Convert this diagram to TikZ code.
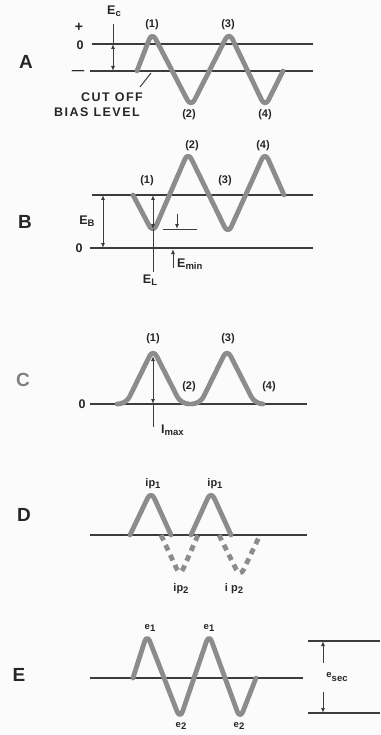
\documentclass[tikz,border=0pt]{standalone}
\usepackage{fontspec}
\setmainfont{Liberation Sans}
\usetikzlibrary{arrows.meta}
\definecolor{axc}{HTML}{3C3C3C}
\definecolor{wavec}{HTML}{8C8C8C}
\definecolor{txt}{HTML}{262626}
\definecolor{bgc}{HTML}{FBFBFB}
\newcommand{\lowsub}[1]{\raisebox{-0.35ex}{\fontsize{9.5}{10}\selectfont #1}}
\begin{document}
\begin{tikzpicture}[x=1pt,y=-1pt,
  axis/.style={line width=1.3pt, draw=axc},
  wave/.style={line width=4.8pt, draw=wavec, rounded corners=8pt, line cap=round, line join=round},
  dwave/.style={line width=4.8pt, draw=wavec, rounded corners=8pt, dash pattern=on 6pt off 5pt},
  lbl/.style={font=\fontsize{11}{12}\selectfont\bfseries, text=txt, inner sep=0pt},
  big/.style={font=\fontsize{12.5}{14}\selectfont\bfseries, text=txt, inner sep=0pt},
  panel/.style={font=\fontsize{19}{20}\selectfont\bfseries, text=txt, inner sep=0pt},
  dimline/.style={line width=1pt, draw=axc},
  dimarr/.style={line width=1pt, draw=axc, -{Latex[length=5pt,width=4pt]}},
  dimboth/.style={line width=1pt, draw=axc, {Latex[length=5pt,width=4pt]}-{Latex[length=5pt,width=4pt]}},
]
\fill[bgc] (0,0) rectangle (380,735);
\useasboundingbox (0,0) rectangle (380,735);

% ---------------- Panel A ----------------
\node[panel] (pA) at (26,62) {A};
\node[big, font=\fontsize{14}{14}\selectfont\bfseries] (plusA) at (79,27) {+};
\node[big] (zeroA) at (80,45) {0};
\node[big] (minusA) at (78,73) {\textemdash};
\coordinate (A0l) at (92,44); \coordinate (A0r) at (313,44);
\coordinate (A1l) at (90,71); \coordinate (A1r) at (313,71);
\draw[axis] (A0l) -- (A0r);
\draw[axis] (A1l) -- (A1r);
\draw[wave] (137,71) -- (152,32) -- (191,107) -- (229,32) -- (265,107) -- (283,71);
\coordinate (ec1) at (113,24); \coordinate (ec2) at (113,44); \coordinate (ec3) at (113,71);
\draw[dimline] (ec1) -- (ec2);
\draw[dimboth] (ec2) -- (ec3);
\node[big] (Ec) at (114,11) {E\lowsub{c}};
\node[lbl] (a1) at (152,25) {(1)};
\node[lbl] (a3) at (228,25) {(3)};
\node[lbl] (a2) at (189,115) {(2)};
\node[lbl] (a4) at (265,115) {(4)};
\node[big, font=\fontsize{12.5}{14}\selectfont\bfseries\addfontfeature{LetterSpace=12}] (cut) at (112,97) {CUT OFF};
\node[big, font=\fontsize{12.5}{14}\selectfont\bfseries\addfontfeature{LetterSpace=12}] (bias) at (97,112) {BIAS LEVEL};
\coordinate (lead) at (151,73);
\draw[dimline] (140,87) -- (lead);

% ---------------- Panel B ----------------
\node[panel] (pB) at (25,222) {B};
\node[big] (zeroB) at (79,248) {0};
\coordinate (B0l) at (92,195); \coordinate (B0r) at (313,195);
\coordinate (B1l) at (90,248); \coordinate (B1r) at (313,248);
\draw[axis] (B0l) -- (B0r);
\draw[axis] (B1l) -- (B1r);
\draw[wave] (133,195) -- (153,233) -- (188,152) -- (228,234) -- (265,152) -- (284,195);
\coordinate (eb1) at (103,195); \coordinate (eb2) at (103,248);
\draw[dimboth] (eb1) -- (eb2);
\node[big] (EB) at (87,221) {E\lowsub{B}};
\coordinate (el1) at (153,195); \coordinate (el2) at (153,229); \coordinate (el3) at (153,272);
\draw[dimboth] (el1) -- (el2);
\draw[dimline] (el2) -- (el3);
\node[big] (EL) at (150,280) {E\lowsub{L}};
\coordinate (tk1) at (177,214); \coordinate (tk2) at (177,229);
\coordinate (hl1) at (163,229); \coordinate (hl2) at (197,229);
\draw[dimarr] (tk1) -- (tk2);
\draw[dimline] (hl1) -- (hl2);
\coordinate (em1) at (173,268); \coordinate (em2) at (173,249);
\draw[dimarr] (em1) -- (em2);
\node[big, anchor=west] (Emin) at (177,264) {E\lowsub{min}};
\node[lbl] (b1) at (147,181) {(1)};
\node[lbl] (b3) at (225,181) {(3)};
\node[lbl] (b2) at (192,146) {(2)};
\node[lbl] (b4) at (263,146) {(4)};

% ---------------- Panel C ----------------
\node[panel, text=gray] (pC) at (23,380) {C};
\node[big] (zeroC) at (82,404) {0};
\coordinate (C0l) at (90,404); \coordinate (C0r) at (307,404);
\draw[axis] (C0l) -- (C0r);
\draw[wave] (117,404) -- (126,404) -- (153,349) -- (181,404) -- (188,404);
\draw[wave] (193,404) -- (200,404) -- (227,349) -- (255,404) -- (263,404);
\coordinate (im1) at (153,356); \coordinate (im2) at (153,404); \coordinate (im3) at (153,427);
\draw[dimboth] (im2) -- (im1);
\draw[dimline] (im2) -- (im3);
\node[big, anchor=west] (Imax) at (161,430) {I\lowsub{max}};
\node[lbl] (c1) at (153,339) {(1)};
\node[lbl] (c3) at (228,339) {(3)};
\node[lbl] (c2) at (189,387) {(2)};
\node[lbl] (c4) at (269,387) {(4)};

% ---------------- Panel D ----------------
\node[panel] (pD) at (24,515) {D};
\coordinate (D0l) at (90,535); \coordinate (D0r) at (307,535);
\draw[axis] (D0l) -- (D0r);
\draw[wave] (130,535) -- (151,491) -- (171,535);
\draw[wave] (191,535) -- (211,491) -- (231,535);
\draw[dwave] (161,535) -- (180,576) -- (198,535);
\draw[dwave] (219,535) -- (240,577) -- (260,535);
\node[lbl] (ip1a) at (153,484) {ip\lowsub{1}};
\node[lbl] (ip1b) at (215,484) {ip\lowsub{1}};
\node[lbl] (ip2a) at (181,589) {ip\lowsub{2}};
\node[lbl] (ip2b) at (234,589) {i p\lowsub{2}};

% ---------------- Panel E ----------------
\node[panel] (pE) at (19,675) {E};
\coordinate (E0l) at (90,678); \coordinate (E0r) at (303,678);
\draw[axis] (E0l) -- (E0r);
\draw[wave] (133,678) -- (147,634) -- (180,719) -- (209,634) -- (240,719) -- (256,678);
\node[lbl] (e1a) at (150,628) {\fontsize{9.5}{10}\selectfont e\lowsub{1}};
\node[lbl] (e1b) at (209,628) {\fontsize{9.5}{10}\selectfont e\lowsub{1}};
\node[lbl] (e2a) at (181,726) {\fontsize{9.5}{10}\selectfont e\lowsub{2}};
\node[lbl] (e2b) at (239,726) {\fontsize{9.5}{10}\selectfont e\lowsub{2}};
\coordinate (Et1) at (308,641); \coordinate (Et2) at (380,641);
\coordinate (Eb1) at (308,713); \coordinate (Eb2) at (380,713);
\draw[axis] (Et1) -- (Et2);
\draw[axis] (Eb1) -- (Eb2);
\coordinate (es1) at (323,663); \coordinate (es2) at (323,641);
\coordinate (es3) at (323,692); \coordinate (es4) at (323,713);
\draw[dimarr] (es1) -- (es2);
\draw[dimarr] (es3) -- (es4);
\node[lbl] (esec) at (337,677) {\raisebox{0.5ex}{\fontsize{9.5}{10}\selectfont e}\lowsub{sec}};
\end{tikzpicture}
\end{document}
